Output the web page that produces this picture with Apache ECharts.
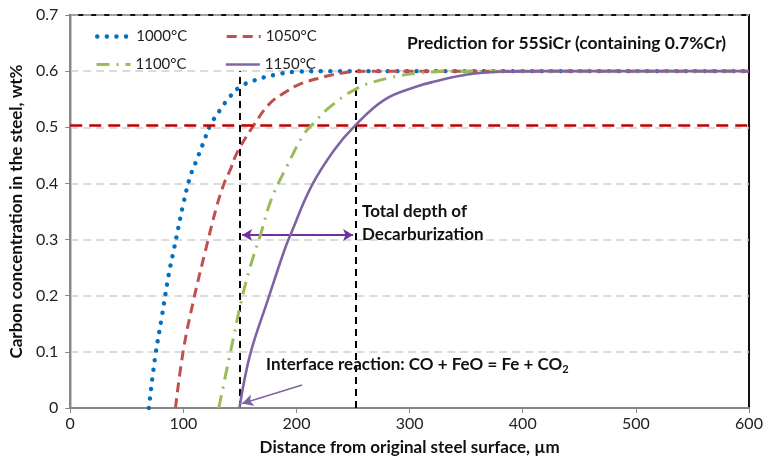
<!DOCTYPE html>
<html>
<head>
<meta charset="utf-8">
<script src="https://cdn.jsdelivr.net/npm/echarts@6/dist/echarts.min.js"></script>
<style>
  html, body { margin: 0; padding: 0; background: #fff; }
  #main { width: 766px; height: 472px; }
</style>
</head>
<body>
<div id="main"></div>
<script>
// values
var names = ['1000°C', '1050°C', '1100°C', '1150°C'];
var colors = ['#0070c0', '#c0504d', '#9bbb59', '#8064a2'];

var x1000 = [69.5, 75, 81, 87, 91.5, 100, 106, 112, 118, 123.7, 132.5, 141.3, 150, 162, 180, 200, 230, 270, 600];
var y1000 = [0, 0.09, 0.163, 0.237, 0.281, 0.364, 0.412, 0.443, 0.474, 0.503, 0.531, 0.555, 0.572, 0.583, 0.593, 0.599, 0.6, 0.6, 0.6];

var x1050 = [93, 100, 109, 119, 129.6, 136, 141.4, 147.3, 162, 176.7, 191.4, 202, 219, 239, 262, 300, 600];
var y1050 = [0, 0.103, 0.192, 0.276, 0.36, 0.4, 0.424, 0.454, 0.503, 0.543, 0.564, 0.576, 0.587, 0.596, 0.6, 0.6, 0.6];

var x1100 = [131.3, 138, 144.5, 151, 159.2, 168.5, 178, 191.4, 206, 215, 228.3, 253.3, 280, 306.5, 340, 380, 600];
var y1100 = [0, 0.065, 0.127, 0.189, 0.252, 0.311, 0.373, 0.43, 0.486, 0.507, 0.534, 0.569, 0.587, 0.596, 0.6, 0.6, 0.6];

var x1150 = [149.6, 159, 174.6, 189.3, 195.2, 212.9, 233.5, 251.8, 277.7, 307, 321, 351, 380, 420, 600];
var y1150 = [0, 0.095, 0.192, 0.281, 0.311, 0.394, 0.46, 0.503, 0.549, 0.573, 0.581, 0.594, 0.599, 0.6, 0.6];

var xTicks = [0, 100, 200, 300, 400, 500, 600];
var yTicks = [0, 0.1, 0.2, 0.3, 0.4, 0.5, 0.6, 0.7];

var criticalLevel = 0.503;       // red dashed level
var depthStart = 150;            // interface position
var depthEnd = 252;              // total decarburization depth
var depthTop = 0.6;
var arrowLevel = 0.308;
var pointerFrom = [205, 0.041];
var pointerTo = [152, 0.008];

function pairs(xs, ys) {
  return xs.map(function (x, i) { return [x, ys[i]]; });
}

var chart = echarts.init(document.getElementById('main'), null, { renderer: 'canvas' });
var FONT = 'Lato';

var lineStyles = [
  { type: [0.1, 9.5], width: 4.4, cap: 'round' },
  { type: [10, 6], width: 3 },
  { type: [13, 7, 2, 7], width: 3 },
  { type: 'solid', width: 2.6 }
];
var datasets = [pairs(x1000, y1000), pairs(x1050, y1050), pairs(x1100, y1100), pairs(x1150, y1150)];

var series = names.map(function (n, i) {
  return {
    name: n,
    type: 'line',
    data: datasets[i],
    symbol: 'none',
    smooth: 0.4,
    color: colors[i],
    lineStyle: Object.assign({ color: colors[i] }, lineStyles[i]),
    z: 3 + i
  };
});

// annotation lines
series.push({
  name: 'annot',
  type: 'line',
  data: [],
  silent: true,
  markLine: {
    silent: true,
    animation: false,
    label: { show: false },
    data: [
      [{ coord: [0, criticalLevel], symbol: 'none', lineStyle: { color: '#c00000', type: [12, 7], width: 2.5 } },
       { coord: [600, criticalLevel], symbol: 'none' }],
      [{ coord: [depthStart, 0], symbol: 'none', lineStyle: { color: '#000', type: [7, 5], width: 2 } },
       { coord: [depthStart, depthTop], symbol: 'none' }],
      [{ coord: [depthEnd, 0], symbol: 'none', lineStyle: { color: '#000', type: [7, 5], width: 2 } },
       { coord: [depthEnd, depthTop], symbol: 'none' }],
      [{ coord: [depthStart + 2, arrowLevel], symbol: 'arrow', symbolSize: [9, 10], lineStyle: { color: '#7030a0', type: 'solid', width: 2 } },
       { coord: [depthEnd - 2, arrowLevel], symbol: 'arrow', symbolSize: [9, 10] }],
      [{ coord: pointerFrom, symbol: 'none', lineStyle: { color: '#8064a2', type: 'solid', width: 1.5 } },
       { coord: pointerTo, symbol: 'arrow', symbolSize: [9, 11] }]
    ]
  },
  z: 10
});

function legendItem(i) {
  return { name: names[i], lineStyle: Object.assign({ color: colors[i] }, lineStyles[i]) };
}

var legendCommon = {
  left: 90,
  itemWidth: 34,
  itemHeight: 10,
  itemGap: 38,
  itemStyle: { opacity: 0 },
  textStyle: { fontFamily: FONT, fontSize: 15, color: '#222' }
};

var option = {
  animation: false,
  backgroundColor: '#fff',
  grid: {
    left: 70, right: 17, top: 15, bottom: 64,
    show: true, borderColor: '#111', borderWidth: 2
  },
  legend: [
    Object.assign({ top: 24, data: [legendItem(0), legendItem(1)] }, legendCommon),
    Object.assign({ top: 52, data: [legendItem(2), legendItem(3)] }, legendCommon)
  ],
  xAxis: {
    type: 'value', min: 0, max: 600, interval: 100,
    name: 'Distance from original steel surface, µm',
    nameLocation: 'middle', nameGap: 31,
    nameTextStyle: { fontFamily: FONT, fontSize: 17, fontWeight: 'bold', color: '#111' },
    axisLine: { show: true, lineStyle: { color: '#868686', width: 2 } },
    axisTick: { show: true, length: 5, lineStyle: { color: '#868686' } },
    axisLabel: { fontFamily: FONT, fontSize: 16, color: '#222', margin: 8,
      formatter: function (v) { return xTicks.indexOf(v) >= 0 ? String(v) : ''; } },
    splitLine: { show: false }
  },
  yAxis: {
    type: 'value', min: 0, max: 0.7, interval: 0.1,
    name: 'Carbon concentration in the steel, wt%',
    nameLocation: 'middle', nameGap: 45, nameRotate: 90,
    nameTextStyle: { fontFamily: FONT, fontSize: 17, fontWeight: 'bold', color: '#111' },
    axisLine: { show: true, lineStyle: { color: '#868686', width: 2 } },
    axisTick: { show: true, length: 5, lineStyle: { color: '#868686' } },
    axisLabel: { fontFamily: FONT, fontSize: 16, color: '#222', margin: 12,
      formatter: function (v) {
        var t = yTicks.filter(function (k) { return Math.abs(k - v) < 1e-9; });
        return t.length ? (v === 0 ? '0' : v.toFixed(1)) : '';
      } },
    splitLine: { show: true, lineStyle: { color: '#d0d0d0', type: [8, 5], width: 1.5 } }
  },
  graphic: [
    { type: 'text', left: 407, top: 34, z: 20,
      style: { text: 'Prediction for 55SiCr (containing 0.7%Cr)', fontFamily: FONT, fontSize: 17.5, fontWeight: 'bold', fill: '#111' } },
    { type: 'text', left: 362, top: 200, z: 20,
      style: { text: 'Total depth of\nDecarburization', fontFamily: FONT, fontSize: 17, fontWeight: 'bold', fill: '#111', lineHeight: 23 } },
    { type: 'text', left: 266, top: 356, z: 20,
      style: {
        text: 'Interface reaction: CO + FeO = Fe + CO{s|2}',
        fontFamily: FONT, fontSize: 17, fontWeight: 'bold', fill: '#111',
        rich: { s: { fontFamily: FONT, fontSize: 11, fontWeight: 'bold', fill: '#111', verticalAlign: 'bottom', padding: [9, 0, 0, 0] } }
      } }
  ],
  series: series
};

chart.setOption(option);
</script>
</body>
</html>
